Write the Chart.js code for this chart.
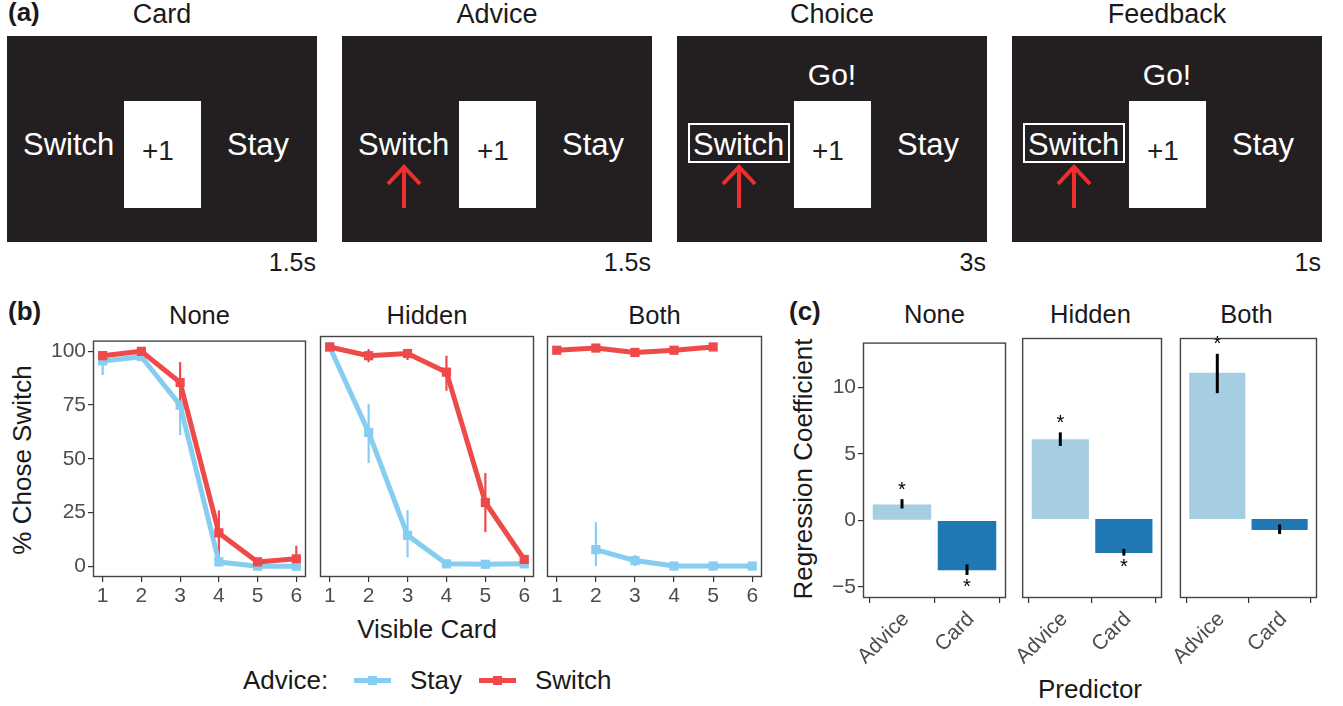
<!DOCTYPE html>
<html><head><meta charset="utf-8">
<script src="https://cdn.jsdelivr.net/npm/chart.js@4.4.0/dist/chart.umd.min.js"></script>
<style>
html,body{margin:0;padding:0;background:#fff;}
body{width:1343px;height:706px;position:relative;overflow:hidden;font-family:"Liberation Sans",Arial,Helvetica,sans-serif;color:#1a1a1a;}
.abs{position:absolute;white-space:nowrap;}
canvas{position:absolute;}
.scr{position:absolute;background:#231f20;}
.card{position:absolute;background:#fff;}
.wt{position:absolute;color:#fff;white-space:nowrap;line-height:1;}
.lbl{position:absolute;font-weight:bold;font-size:26px;line-height:1;color:#1a1a1a;}
.ttl{position:absolute;text-align:center;line-height:1;white-space:nowrap;color:#1a1a1a;}
</style></head>
<body>
<div id="root"></div>
<canvas id="b1" width="276" height="290" style="left:40px;top:326px"></canvas>
<canvas id="b2" width="234" height="290" style="left:310px;top:326px"></canvas>
<canvas id="b3" width="235" height="290" style="left:537px;top:326px"></canvas>
<canvas id="c1" width="196" height="352" style="left:820px;top:328px"></canvas>
<canvas id="c2" width="163" height="352" style="left:1009px;top:328px"></canvas>
<canvas id="c3" width="161" height="352" style="left:1166px;top:328px"></canvas>
<script>
// ---------------- DATA ----------------
const stageNames = ['Card', 'Advice', 'Choice', 'Feedback'];
const stageDurations = ['1.5s', '1.5s', '3s', '1s'];
const conditions = ['None', 'Hidden', 'Both'];
const visibleCards = [1, 2, 3, 4, 5, 6];
const xTickValues = [1, 2, 3, 4, 5, 6];
const yTickValues = [0, 25, 50, 75, 100];
const adviceLevels = ['Stay', 'Switch'];

// % chose switch, Advice = Stay
const stayNone      = [95.5, 97.5, 75, 2, 0, 0];
const stayNoneLo    = [89, 96, 61, 0, 0, 0];
const stayNoneHi    = [98.5, 99, 87, 4, 0.5, 0.5];
const stayHidden    = [100, 61, 14, 1, 0.8, 1];
const stayHiddenLo  = [99, 47, 4, 0, 0, 0];
const stayHiddenHi  = [100, 74, 25.5, 2, 2, 2];
const stayBoth      = [null, 7.5, 2.5, 0, 0, 0];
const stayBothLo    = [null, 0, 0, 0, 0, 0];
const stayBothHi    = [null, 20, 5, 0.5, 0.5, 0.5];
// % chose switch, Advice = Switch
const switchNone     = [98, 100, 85.5, 15.5, 2, 3.5];
const switchNoneLo   = [96, 99, 74, 4, 0, 0];
const switchNoneHi   = [99.5, 100, 95, 26, 3.5, 9.5];
const switchHidden   = [100, 96, 97, 88.5, 29, 3];
const switchHiddenLo = [99, 93, 94, 80, 15.5, 0];
const switchHiddenHi = [100, 99, 98.5, 96, 42.5, 5];
const switchBoth     = [98.5, 99.5, 97.5, 98.5, 100, null];
const switchBothLo   = [97.5, 98.5, 96.5, 97.5, 99.5, null];
const switchBothHi   = [99.5, 100, 98.5, 99.5, 100, null];

// regression coefficients
const predictors = ['Advice', 'Card'];
const predictorPositions = [1, 2];
const coefTicks = [-5, 0, 5, 10];
const coefNone   = [1.2, -3.75];
const coefNoneLo = [0.9, -4.1];
const coefNoneHi = [1.6, -3.3];
const sigNone    = [true, true];
const coefHidden   = [5.9, -2.5];
const coefHiddenLo = [5.4, -2.7];
const coefHiddenHi = [6.4, -2.2];
const sigHidden    = [true, true];
const coefBoth   = [10.8, -0.8];
const coefBothLo = [9.3, -1.1];
const coefBothHi = [12.2, -0.4];
const sigBoth    = [true, false];

// ---------------- STYLE ----------------
const STAY_COL = '#86CDF1';
const SWITCH_COL = '#EE4A4A';
const ADVICE_COL = '#A6CEE3';
const CARD_COL = '#1F78B4';
const FONT = '"Liberation Sans", Arial, Helvetica, sans-serif';
const TICK_SIZE = 20;
Chart.defaults.font.family = FONT;
Chart.defaults.devicePixelRatio = 1;

// ---------------- PANEL (a) ----------------
const root = document.getElementById('root');
function el(cls, style, text) {
  const d = document.createElement('div');
  d.className = cls; d.setAttribute('style', style);
  if (text != null) d.textContent = text;
  root.appendChild(d); return d;
}
stageNames.forEach((name, i) => {
  const L = 7 + 335 * i;
  el('ttl', `left:${L}px;top:1px;width:310px;font-size:27px;`, name);
  el('scr', `left:${L}px;top:36px;width:310px;height:206px;`);
  el('card', `left:${L + 117}px;top:101px;width:77px;height:107px;`);
  el('wt', `left:${L + 16}px;top:129px;font-size:31px;`, 'Switch');
  el('wt', `left:${L + 135}px;top:137px;font-size:28px;color:#231f20;`, '+1');
  el('wt', `left:${L + 220}px;top:129px;font-size:31px;`, 'Stay');
  el('abs', `left:${L}px;top:250px;width:309px;text-align:right;font-size:25px;line-height:1;`, stageDurations[i]);
  if (i >= 2) {
    el('wt', `left:${L}px;width:310px;text-align:center;top:60px;font-size:30px;`, 'Go!');
    el('abs', `left:${L + 11}px;top:123px;width:102px;height:40px;border:2px solid #fff;box-sizing:border-box;`);
  }
  if (i >= 1) {
    const s = document.createElementNS('http://www.w3.org/2000/svg', 'svg');
    s.setAttribute('width', '40'); s.setAttribute('height', '46');
    s.setAttribute('style', `position:absolute;left:${L + 42}px;top:164px;`);
    s.innerHTML = '<path d="M20 44 V4 M4 20 L20 3 L36 20" stroke="#ED2F2F" stroke-width="4" fill="none"/>';
    root.appendChild(s);
  }
});
el('lbl', 'left:8px;top:-1px;', '(a)');
el('lbl', 'left:8px;top:298px;', '(b)');
el('lbl', 'left:789px;top:298px;', '(c)');

// strip titles
const bPlots = [[93, 306], [320, 534], [547, 762]];
const cPlots = [[863, 1006], [1019, 1162], [1176, 1317]];
conditions.forEach((c, i) => {
  el('ttl', `left:${bPlots[i][0]}px;width:${bPlots[i][1] - bPlots[i][0]}px;top:303px;font-size:25.5px;`, c);
  el('ttl', `left:${cPlots[i][0]}px;width:${cPlots[i][1] - cPlots[i][0]}px;top:302px;font-size:25.5px;`, c);
});
// axis titles
el('ttl', 'left:327px;width:200px;top:616px;font-size:26px;', 'Visible Card');
el('ttl', 'left:990px;width:200px;top:676px;font-size:26px;', 'Predictor');
el('ttl', 'left:-78px;width:200px;top:445px;height:30px;line-height:30px;font-size:26px;transform:rotate(-90deg);', '% Chose Switch');
el('ttl', 'left:653px;width:300px;top:454px;height:30px;line-height:30px;font-size:26px;transform:rotate(-90deg);', 'Regression Coefficient');
// legend
el('ttl', 'left:243px;top:667px;font-size:26px;text-align:left;', 'Advice:');
el('abs', `left:354px;top:678px;width:37px;height:5px;background:${STAY_COL};`);
el('abs', `left:368px;top:676px;width:9px;height:9px;background:${STAY_COL};`);
el('ttl', 'left:410px;top:667px;font-size:26px;text-align:left;', adviceLevels[0]);
el('abs', `left:479px;top:678px;width:37px;height:5px;background:${SWITCH_COL};`);
el('abs', `left:493px;top:676px;width:9px;height:9px;background:${SWITCH_COL};`);
el('ttl', 'left:535px;top:667px;font-size:26px;text-align:left;', adviceLevels[1]);

// ---------------- PLUGIN ----------------
const decor = {
  id: 'decor',
  beforeDatasetsDraw(chart, args, opts) {
    if (opts.behind !== true) return;
    drawBars(chart, opts);
  },
  afterDatasetsDraw(chart, args, opts) {
    if (opts.behind !== true) drawBars(chart, opts);
    const { ctx, chartArea: a, scales: { x, y } } = chart;
    ctx.save();
    (opts.stars || []).forEach(s => {
      ctx.fillStyle = '#000';
      ctx.font = '20px ' + FONT;
      ctx.textAlign = 'center'; ctx.textBaseline = 'middle';
      s.xs.forEach((xv, i) => {
        if (!s.sig[i]) return;
        const up = s.val[i] >= 0;
        const py = y.getPixelForValue(up ? s.hi[i] : s.lo[i]) + (up ? -9 : 12);
        ctx.fillText('*', x.getPixelForValue(xv), py);
      });
    });
    ctx.strokeStyle = '#444'; ctx.lineWidth = 1.4;
    ctx.strokeRect(a.left + 0.5, a.top + 0.5, a.width - 1, a.height - 1);
    ctx.restore();
  }
};
function drawBars(chart, opts) {
  const { ctx, scales: { x, y } } = chart;
  ctx.save();
  (opts.bars || []).forEach(s => {
    ctx.strokeStyle = s.color; ctx.lineWidth = s.width; ctx.lineCap = 'butt';
    s.xs.forEach((xv, i) => {
      if (s.lo[i] == null) return;
      const px = x.getPixelForValue(xv);
      ctx.beginPath();
      ctx.moveTo(px, y.getPixelForValue(s.lo[i]));
      ctx.lineTo(px, y.getPixelForValue(s.hi[i]));
      ctx.stroke();
    });
  });
  ctx.restore();
}

function tickStyle(size) {
  return { color: '#4d4d4d', font: { size: size || TICK_SIZE, family: FONT } };
}
function gridStyle() {
  return { display: true, drawOnChartArea: false, drawTicks: true, tickLength: 5, color: '#333', lineWidth: 1.2 };
}

// ---------------- PANEL (b) ----------------
function lineChart(id, stay, stayLo, stayHi, sw, swLo, swHi, showY, pad) {
  const pts = arr => visibleCards.map((v, i) => ({ x: v, y: arr[i] }));
  const ds = (label, arr, col, order) => ({
    label, data: pts(arr), borderColor: col, backgroundColor: col,
    borderWidth: 5, pointStyle: 'rect', pointRadius: 6.5, pointBorderWidth: 0,
    pointBackgroundColor: col, borderJoinStyle: 'round', order, spanGaps: false
  });
  new Chart(document.getElementById(id), {
    type: 'line',
    data: { datasets: [ds(adviceLevels[0], stay, STAY_COL, 1), ds(adviceLevels[1], sw, SWITCH_COL, 0)] },
    options: {
      responsive: false, animation: false, events: [],
      layout: { padding: pad },
      plugins: {
        legend: { display: false }, tooltip: { enabled: false },
        decor: {
          behind: true,
          bars: [
            { xs: visibleCards, lo: stayLo, hi: stayHi, color: STAY_COL, width: 2.2 },
            { xs: visibleCards, lo: swLo, hi: swHi, color: SWITCH_COL, width: 2.2 }
          ]
        }
      },
      scales: {
        x: {
          type: 'linear', min: 0.75, max: 6.25,
          afterBuildTicks: s => { s.ticks = xTickValues.map(v => ({ value: v })); },
          afterFit: s => { s.height = 39; },
          grid: gridStyle(), border: { display: false },
          ticks: Object.assign(tickStyle(21), { padding: 2, maxRotation: 0 })
        },
        y: {
          type: 'linear', min: -5, max: 105, display: showY,
          afterBuildTicks: s => { s.ticks = yTickValues.map(v => ({ value: v })); },
          afterFit: s => { s.width = showY ? 53 : 0; },
          grid: gridStyle(), border: { display: false },
          ticks: Object.assign(tickStyle(21), { padding: 2 })
        }
      }
    },
    plugins: [decor]
  });
}
lineChart('b1', stayNone, stayNoneLo, stayNoneHi, switchNone, switchNoneLo, switchNoneHi, true, { left: 0, right: 10, top: 10, bottom: 0 });
lineChart('b2', stayHidden, stayHiddenLo, stayHiddenHi, switchHidden, switchHiddenLo, switchHiddenHi, false, { left: 10, right: 10, top: 10, bottom: 0 });
lineChart('b3', stayBoth, stayBothLo, stayBothHi, switchBoth, switchBothLo, switchBothHi, false, { left: 10, right: 10, top: 10, bottom: 0 });

// ---------------- PANEL (c) ----------------
function barChart(id, coef, lo, hi, sig, showY, pad) {
  new Chart(document.getElementById(id), {
    type: 'bar',
    data: {
      datasets: [{
        data: predictorPositions.map((p, i) => ({ x: p, y: coef[i] })),
        backgroundColor: [ADVICE_COL, CARD_COL],
        borderWidth: 0, barPercentage: 0.9, categoryPercentage: 1
      }]
    },
    options: {
      responsive: false, animation: false, events: [],
      layout: { padding: pad },
      plugins: {
        legend: { display: false }, tooltip: { enabled: false },
        decor: {
          bars: [{ xs: predictorPositions, lo, hi, color: '#000', width: 3 }],
          stars: [{ xs: predictorPositions, lo, hi, val: coef, sig }]
        }
      },
      scales: {
        x: {
          type: 'linear', min: 0.4, max: 2.6, offset: false,
          afterBuildTicks: s => { s.ticks = predictorPositions.map(v => ({ value: v })); },
          afterFit: s => { s.height = 82; },
          grid: gridStyle(), border: { display: false },
          ticks: Object.assign(tickStyle(21), {
            padding: 4, labelOffset: 4, minRotation: 45, maxRotation: 45, autoSkip: false,
            callback: v => predictors[predictorPositions.indexOf(v)] || ''
          })
        },
        y: {
          type: 'linear', min: -5.83, max: 13.37, display: showY,
          afterBuildTicks: s => { s.ticks = coefTicks.map(v => ({ value: v })); },
          afterFit: s => { s.width = showY ? 43 : 0; },
          grid: gridStyle(), border: { display: false },
          ticks: Object.assign(tickStyle(21), { padding: 2, callback: v => (v < 0 ? '\u2212' + Math.abs(v) : String(v)) })
        }
      }
    },
    plugins: [decor]
  });
}
barChart('c1', coefNone, coefNoneLo, coefNoneHi, sigNone, true, { left: 0, right: 10, top: 10, bottom: 0 });
barChart('c2', coefHidden, coefHiddenLo, coefHiddenHi, sigHidden, false, { left: 10, right: 10, top: 10, bottom: 0 });
barChart('c3', coefBoth, coefBothLo, coefBothHi, sigBoth, false, { left: 10, right: 10, top: 10, bottom: 0 });
</script>
</body></html>
